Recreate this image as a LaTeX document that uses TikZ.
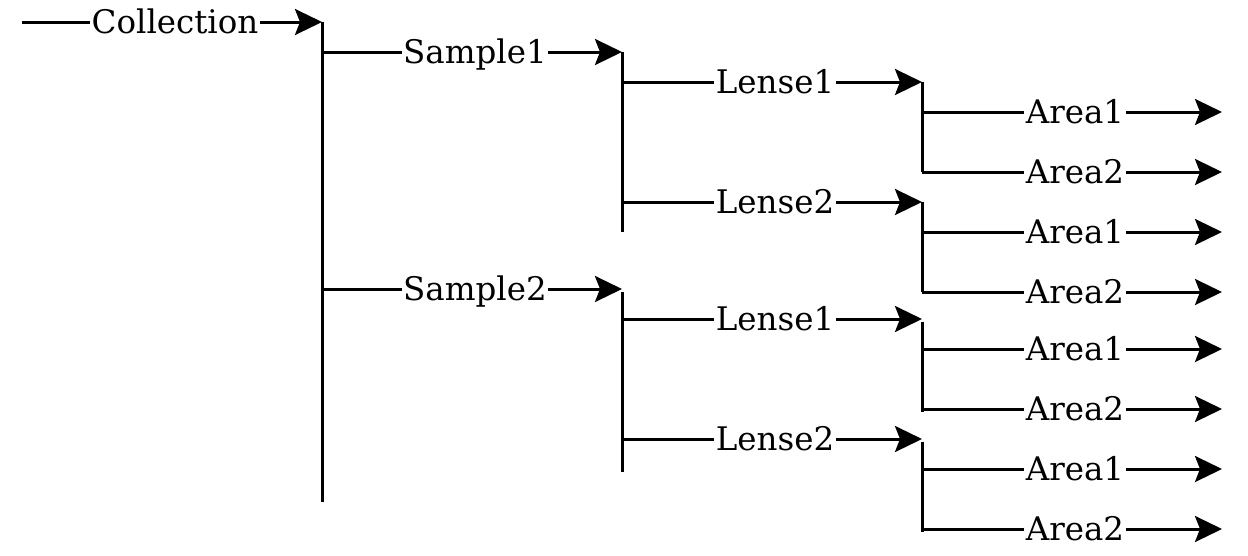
\documentclass[tikz,border=0pt]{standalone}
\usepackage{fontspec}
\setmainfont{DejaVu Serif}
\usetikzlibrary{arrows.meta}
\begin{document}
\begin{tikzpicture}[x=1pt,y=-1pt,
  conn/.style={line width=3pt,-{Stealth[length=27pt,width=26pt,inset=5pt]}},
  bar/.style={line width=3pt},
  lbl/.style={fill=white,inner xsep=1.5pt,inner ysep=0pt,font=\rmfamily\fontsize{32.5}{38}\selectfont,anchor=base,yshift=-11.5pt,pos=0.51}]
\useasboundingbox (0,0) rectangle (1248,555);
% level 0
\coordinate (c0) at (22,22);
\coordinate (c1) at (322,22);
\draw[conn] (c0) -- node[lbl] (lcol) {Collection} (c1);
\coordinate (v0a) at (322,22);
\coordinate (v0b) at (322,502);
\draw[bar] (v0a) -- (v0b);
% samples
\coordinate (s1a) at (322,52);  \coordinate (s1b) at (622,52);
\coordinate (s2a) at (322,289); \coordinate (s2b) at (622,289);
\draw[conn] (s1a) -- node[lbl] (ls1) {Sample1} (s1b);
\draw[conn] (s2a) -- node[lbl] (ls2) {Sample2} (s2b);
\coordinate (v1a) at (622,52);  \coordinate (v1b) at (622,232);
\coordinate (v2a) at (622,292); \coordinate (v2b) at (622,472);
\draw[bar] (v1a) -- (v1b);
\draw[bar] (v2a) -- (v2b);
% lenses
\foreach \y/\t/\n in {82/Lense1/a,202/Lense2/b,319/Lense1/c,439/Lense2/d}{
  \coordinate (l\n a) at (622,\y);
  \coordinate (l\n b) at (922,\y);
  \draw[conn] (l\n a) -- node[lbl] (ll\n) {\t} (l\n b);
}
\foreach \ya/\yb/\n in {82/172/a,202/292/b,322/412/c,442/532/d}{
  \coordinate (w\n a) at (922,\ya);
  \coordinate (w\n b) at (922,\yb);
  \draw[bar] (w\n a) -- (w\n b);
}
% areas
\foreach \y/\t/\n in {112/Area1/1,172/Area2/2,232/Area1/3,292/Area2/4,349/Area1/5,409/Area2/6,469/Area1/7,529/Area2/8}{
  \coordinate (a\n a) at (922,\y);
  \coordinate (a\n b) at (1222,\y);
  \draw[conn] (a\n a) -- node[lbl] (la\n) {\t} (a\n b);
}
\end{tikzpicture}
\end{document}
